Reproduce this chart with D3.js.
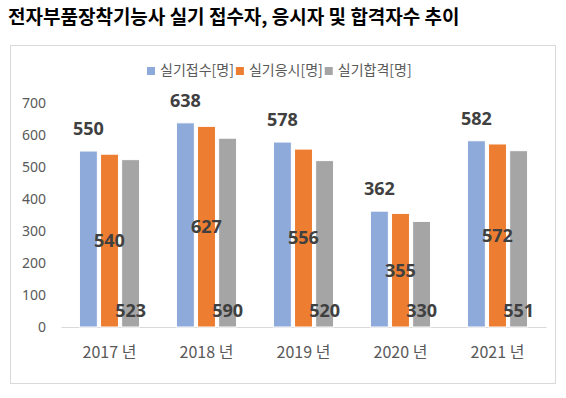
<!DOCTYPE html>
<html>
<head>
<meta charset="utf-8">
<script src="https://cdn.jsdelivr.net/npm/d3@7"></script>
<style>
  body { margin: 0; background: #fff; }
  text { font-family: "Noto Sans CJK KR", "Noto Sans", sans-serif; }
</style>
</head>
<body>
<div id="chart"></div>
<script>
// data
var years = ["2017 년", "2018 년", "2019 년", "2020 년", "2021 년"];
var seriesNames = ["실기접수[명]", "실기응시[명]", "실기합격[명]"];
var applied = [550, 638, 578, 362, 582];
var tested = [540, 627, 556, 355, 572];
var passed = [523, 590, 520, 330, 551];
var yTicks = [0, 100, 200, 300, 400, 500, 600, 700];

var colors = ["#8eaadb", "#ed7d31", "#a5a5a5"];
var allSeries = [applied, tested, passed];

var W = 566, H = 398;
var svg = d3.select("#chart").append("svg")
    .attr("width", W)
    .attr("height", H);

// title
svg.append("text")
    .attr("x", 8)
    .attr("y", 24)
    .style("font-size", "19px")
    .style("font-weight", "bold")
    .style("fill", "#000")
    .text("전자부품장착기능사 실기 접수자, 응시자 및 합격자수 추이");

// chart box
svg.append("rect")
    .attr("x", 10.5).attr("y", 45.5)
    .attr("width", 545).attr("height", 338)
    .style("fill", "none")
    .style("stroke", "#d9d9d9");

var x0 = d3.scaleBand().domain(years).range([61, 546])
    .paddingInner(0.38).paddingOuter(0.19);
var x1 = d3.scaleBand().domain(d3.range(3)).range([0, x0.bandwidth()])
    .paddingInner(0.15);
var y = d3.scaleLinear().domain([0, 700]).range([327, 103]);

// y axis labels
var yAxis = svg.append("g")
    .attr("transform", "translate(46,0)")
    .call(d3.axisLeft(y).tickValues(yTicks).tickSize(0).tickPadding(0));
yAxis.select(".domain").remove();
yAxis.selectAll("text")
    .style("font-size", "14px")
    .style("fill", "#595959")
    .style("font-family", "'Noto Sans', sans-serif");

// x axis
var xAxis = svg.append("g")
    .attr("transform", "translate(0,327)")
    .call(d3.axisBottom(x0).tickSize(0).tickPadding(20));
xAxis.select(".domain").style("stroke", "#d9d9d9");
xAxis.selectAll("text")
    .style("font-size", "16px")
    .style("fill", "#595959");

// bars
var groups = svg.append("g").selectAll("g")
    .data(years)
    .join("g")
    .attr("transform", function(d) { return "translate(" + x0(d) + ",0)"; });

groups.selectAll("rect")
    .data(function(d, i) { return allSeries.map(function(s, k) { return { k: k, v: s[i] }; }); })
    .join("rect")
    .attr("x", function(d) { return x1(d.k); })
    .attr("y", function(d) { return y(d.v); })
    .attr("width", x1.bandwidth())
    .attr("height", function(d) { return y(0) - y(d.v); })
    .style("fill", function(d) { return colors[d.k]; })
    .style("stroke", "#fff")
    .style("stroke-width", 1);

// value labels: outside end, center, inside base
groups.selectAll("text.val")
    .data(function(d, i) { return allSeries.map(function(s, k) { return { k: k, v: s[i] }; }); })
    .join("text")
    .attr("class", "val")
    .attr("x", function(d) { return x1(d.k) + x1.bandwidth() / 2; })
    .attr("y", function(d) {
        if (d.k === 0) return y(d.v) - 22;
        if (d.k === 1) return (y(d.v) + y(0)) / 2;
        return y(0) - 16;
    })
    .attr("dy", "0.35em")
    .attr("text-anchor", "middle")
    .style("font-size", "18px")
    .style("font-weight", "bold")
    .style("fill", "#404040")
    .style("font-family", "'Open Sans', sans-serif")
    .text(function(d) { return d.v; });

// legend
var legend = svg.append("g").attr("transform", "translate(147,70)");
var lx = 0;
seriesNames.forEach(function(name, k) {
    legend.append("rect")
        .attr("x", lx).attr("y", -3)
        .attr("width", 8).attr("height", 8)
        .style("fill", colors[k]);
    var t = legend.append("text")
        .attr("x", lx + 13).attr("y", 0)
        .attr("dy", "0.35em")
        .style("font-size", "14px")
        .style("fill", "#595959")
        .text(name);
    lx += 13 + t.node().getComputedTextLength() + 2;
});
</script>
</body>
</html>
